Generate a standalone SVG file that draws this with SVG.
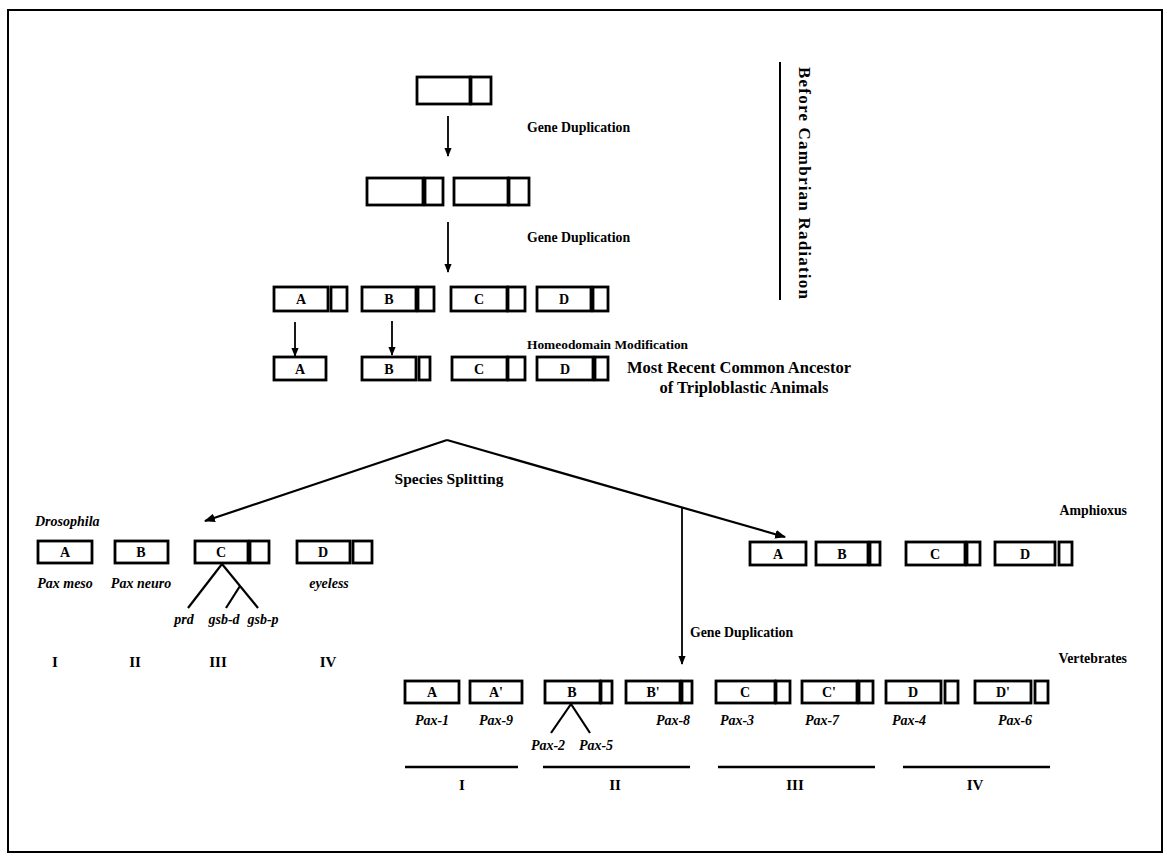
<svg xmlns="http://www.w3.org/2000/svg" width="1167" height="856" viewBox="0 0 1167 856">
<defs>
<marker id="ah" viewBox="0 0 10 10" refX="9" refY="5" markerWidth="5" markerHeight="5" orient="auto" markerUnits="strokeWidth">
<path d="M0,1 L10,5 L0,9 z" fill="#000"/>
</marker>
<style>
.bx{fill:#fff;stroke:#000;stroke-width:2.8}
.ln{stroke:#000;stroke-width:1.8;fill:none}
.lt{font-family:"Liberation Serif",serif;font-weight:bold;font-size:14px;fill:#000;text-anchor:middle}
.tx{font-family:"Liberation Serif",serif;font-weight:bold;font-size:13.8px;fill:#000}
.it{font-family:"Liberation Serif",serif;font-weight:bold;font-style:italic;font-size:14px;fill:#000;text-anchor:middle}
.rm{font-family:"Liberation Serif",serif;font-weight:bold;font-size:15px;fill:#000;text-anchor:middle}
</style>
</defs>
<rect width="1167" height="856" fill="#fff"/>
<rect x="8" y="10" width="1154" height="842" fill="none" stroke="#000" stroke-width="2"/>

<g id="connectors">
<line class="ln" x1="448" y1="116" x2="448" y2="156" marker-end="url(#ah)"/>
<line class="ln" x1="448" y1="222" x2="448" y2="272" marker-end="url(#ah)"/>
<line class="ln" x1="295" y1="322" x2="295" y2="356" marker-end="url(#ah)"/>
<line class="ln" x1="392" y1="321" x2="392" y2="355" marker-end="url(#ah)"/>
<line class="ln" x1="447" y1="440" x2="205" y2="521" marker-end="url(#ah)" style="stroke-width:2.2"/>
<line class="ln" x1="447" y1="440" x2="785" y2="537" marker-end="url(#ah)" style="stroke-width:2.2"/>
<line class="ln" x1="682" y1="508" x2="682" y2="664" marker-end="url(#ah)"/>
<line class="ln" x1="222" y1="564" x2="188" y2="608" style="stroke-width:2.2"/>
<line class="ln" x1="222" y1="564" x2="258" y2="608" style="stroke-width:2.2"/>
<line class="ln" x1="240" y1="586" x2="226" y2="608" style="stroke-width:2.2"/>
<line class="ln" x1="571" y1="704" x2="551" y2="733" style="stroke-width:2.2"/>
<line class="ln" x1="571" y1="704" x2="590" y2="733" style="stroke-width:2.2"/>
<line class="ln" x1="780" y1="62" x2="780" y2="300" style="stroke-width:2"/>
<line class="ln" x1="405" y1="767" x2="518" y2="767" style="stroke-width:2.6"/>
<line class="ln" x1="543" y1="767" x2="690" y2="767" style="stroke-width:2.6"/>
<line class="ln" x1="718" y1="767" x2="875" y2="767" style="stroke-width:2.6"/>
<line class="ln" x1="903" y1="767" x2="1050" y2="767" style="stroke-width:2.6"/>
</g>

<g id="ancestor">
<rect class="bx" x="417" y="77" width="53" height="27"/>
<rect class="bx" x="471" y="77" width="20" height="27"/>
</g>
<g id="dup1">
<rect class="bx" x="367" y="178" width="56" height="27"/>
<rect class="bx" x="425" y="178" width="18" height="27"/>
<rect class="bx" x="454" y="178" width="54" height="27"/>
<rect class="bx" x="509" y="178" width="20" height="27"/>
</g>
<g id="row3">
<rect class="bx" x="274" y="287" width="54" height="24"/><text class="lt" x="301" y="304">A</text>
<rect class="bx" x="331" y="287" width="16" height="24"/>
<rect class="bx" x="362" y="287" width="54" height="24"/><text class="lt" x="389" y="304">B</text>
<rect class="bx" x="418" y="287" width="16" height="24"/>
<rect class="bx" x="451" y="287" width="56" height="24"/><text class="lt" x="479" y="304">C</text>
<rect class="bx" x="508" y="287" width="17" height="24"/>
<rect class="bx" x="537" y="287" width="54" height="24"/><text class="lt" x="564" y="304">D</text>
<rect class="bx" x="593" y="287" width="15" height="24"/>
</g>
<g id="row4">
<rect class="bx" x="274" y="357" width="52" height="23"/><text class="lt" x="300" y="374">A</text>
<rect class="bx" x="362" y="357" width="54" height="23"/><text class="lt" x="389" y="374">B</text>
<rect class="bx" x="419" y="357" width="11" height="23"/>
<rect class="bx" x="452" y="357" width="55" height="23"/><text class="lt" x="479" y="374">C</text>
<rect class="bx" x="508" y="357" width="17" height="23"/>
<rect class="bx" x="537" y="357" width="56" height="23"/><text class="lt" x="565" y="374">D</text>
<rect class="bx" x="595" y="357" width="13" height="23"/>
</g>
<g id="labels-top">
<text class="tx" x="527" y="132">Gene Duplication</text>
<text class="tx" x="527" y="242">Gene Duplication</text>
<text class="tx" x="527" y="349" style="font-size:13.4px">Homeodomain Modification</text>
<text class="tx" x="627" y="373" style="font-size:16.5px">Most Recent Common Ancestor</text>
<text class="tx" x="744" y="393" style="font-size:16.5px;text-anchor:middle">of Triploblastic Animals</text>
<text class="tx" x="449" y="484" style="text-anchor:middle;font-size:15.5px">Species Splitting</text>
<text class="tx" transform="translate(799,183) rotate(90)" style="text-anchor:middle;font-size:17px" textLength="232" lengthAdjust="spacing">Before Cambrian Radiation</text>
</g>
<g id="drosophila">
<text class="it" x="35" y="526" style="text-anchor:start">Drosophila</text>
<rect class="bx" x="38" y="541" width="54" height="22"/><text class="lt" x="65" y="557">A</text>
<rect class="bx" x="115" y="541" width="53" height="22"/><text class="lt" x="141" y="557">B</text>
<rect class="bx" x="195" y="541" width="53" height="22"/><text class="lt" x="221" y="557">C</text>
<rect class="bx" x="250" y="541" width="19" height="22"/>
<rect class="bx" x="297" y="541" width="53" height="22"/><text class="lt" x="323" y="557">D</text>
<rect class="bx" x="353" y="541" width="19" height="22"/>
<text class="it" x="65" y="588">Pax meso</text>
<text class="it" x="141" y="588">Pax neuro</text>
<text class="it" x="329" y="588">eyeless</text>
<text class="it" x="184" y="624">prd</text>
<text class="it" x="224" y="624">gsb-d</text>
<text class="it" x="263" y="624">gsb-p</text>
<text class="rm" x="55" y="667">I</text>
<text class="rm" x="135" y="667">II</text>
<text class="rm" x="218" y="667">III</text>
<text class="rm" x="328" y="667">IV</text>
</g>
<g id="amphioxus">
<text class="tx" x="1127" y="515" style="text-anchor:end">Amphioxus</text>
<rect class="bx" x="750" y="542" width="56" height="23"/><text class="lt" x="778" y="559">A</text>
<rect class="bx" x="816" y="542" width="52" height="23"/><text class="lt" x="842" y="559">B</text>
<rect class="bx" x="870" y="542" width="10" height="23"/>
<rect class="bx" x="906" y="542" width="59" height="23"/><text class="lt" x="935" y="559">C</text>
<rect class="bx" x="967" y="542" width="13" height="23"/>
<rect class="bx" x="995" y="542" width="60" height="23"/><text class="lt" x="1025" y="559">D</text>
<rect class="bx" x="1059" y="542" width="13" height="23"/>
</g>
<g id="vertebrates">
<text class="tx" x="690" y="637">Gene Duplication</text>
<text class="tx" x="1127" y="663" style="text-anchor:end">Vertebrates</text>
<rect class="bx" x="405" y="681" width="54" height="22"/><text class="lt" x="432" y="697">A</text>
<rect class="bx" x="470" y="681" width="52" height="22"/><text class="lt" x="496" y="697">A'</text>
<rect class="bx" x="545" y="681" width="55" height="22"/><text class="lt" x="572" y="697">B</text>
<rect class="bx" x="601" y="681" width="11" height="22"/>
<rect class="bx" x="626" y="681" width="54" height="22"/><text class="lt" x="653" y="697">B'</text>
<rect class="bx" x="682" y="681" width="10" height="22"/>
<rect class="bx" x="716" y="681" width="59" height="22"/><text class="lt" x="745" y="697">C</text>
<rect class="bx" x="776" y="681" width="14" height="22"/>
<rect class="bx" x="802" y="681" width="55" height="22"/><text class="lt" x="829" y="697">C'</text>
<rect class="bx" x="859" y="681" width="14" height="22"/>
<rect class="bx" x="886" y="681" width="55" height="22"/><text class="lt" x="913" y="697">D</text>
<rect class="bx" x="945" y="681" width="13" height="22"/>
<rect class="bx" x="975" y="681" width="56" height="22"/><text class="lt" x="1003" y="697">D'</text>
<rect class="bx" x="1035" y="681" width="13" height="22"/>
<text class="it" x="432" y="725">Pax-1</text>
<text class="it" x="496" y="725">Pax-9</text>
<text class="it" x="548" y="750">Pax-2</text>
<text class="it" x="596" y="750">Pax-5</text>
<text class="it" x="673" y="725">Pax-8</text>
<text class="it" x="737" y="725">Pax-3</text>
<text class="it" x="822" y="725">Pax-7</text>
<text class="it" x="909" y="725">Pax-4</text>
<text class="it" x="1015" y="725">Pax-6</text>
<text class="rm" x="462" y="790">I</text>
<text class="rm" x="615" y="790">II</text>
<text class="rm" x="795" y="790">III</text>
<text class="rm" x="975" y="790">IV</text>
</g>
</svg>
